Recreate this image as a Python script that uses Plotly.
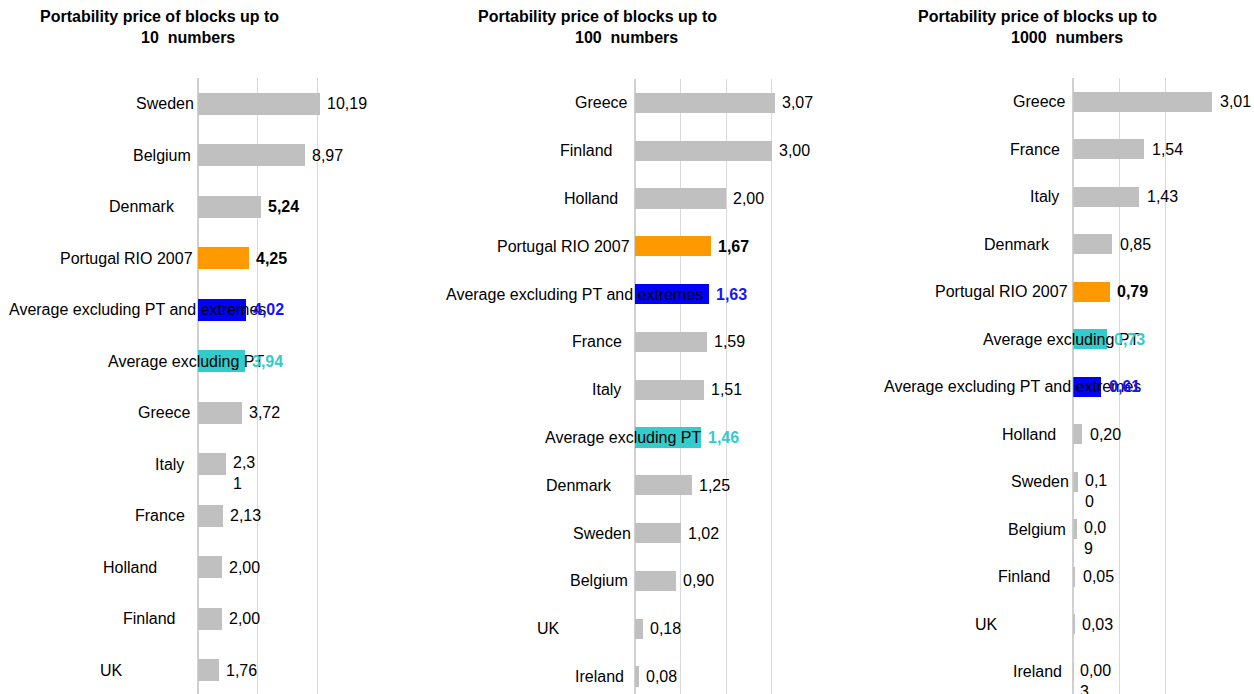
import plotly.graph_objects as go

# ---------------- data ----------------
title_line1 = "Portability price of blocks up to"
title_line2 = ["10\u00a0 numbers", "100\u00a0 numbers", "1000\u00a0 numbers"]

cats_10 = ["Sweden", "Belgium", "Denmark", "Portugal RIO 2007",
           "Average excluding PT and extremes", "Average excluding PT",
           "Greece", "Italy", "France", "Holland", "Finland", "UK"]
vals_10 = [10.19, 8.97, 5.24, 4.25, 4.02, 3.94, 3.72, 2.31, 2.13, 2.00, 2.00, 1.76]

cats_100 = ["Greece", "Finland", "Holland", "Portugal RIO 2007",
            "Average excluding PT and extremes", "France", "Italy",
            "Average excluding PT", "Denmark", "Sweden", "Belgium", "UK", "Ireland"]
vals_100 = [3.07, 3.00, 2.00, 1.67, 1.63, 1.59, 1.51, 1.46, 1.25, 1.02, 0.90, 0.18, 0.08]

cats_1000 = ["Greece", "France", "Italy", "Denmark", "Portugal RIO 2007",
             "Average excluding PT", "Average excluding PT and extremes",
             "Holland", "Sweden", "Belgium", "Finland", "UK", "Ireland"]
vals_1000 = [3.01, 1.54, 1.43, 0.85, 0.79, 0.73, 0.61, 0.20, 0.10, 0.09, 0.05, 0.03, 0.003]

# ---------------- style / layout ----------------
W, H = 1254, 694
FONT = "Arial, Liberation Sans, sans-serif"
FS = 16
GRAY, ORANGE, BLUE, CYAN = "#C0C0C0", "#FF9900", "#0000FF", "#33CCCC"
special_color = {"Portugal RIO 2007": ORANGE,
                 "Average excluding PT and extremes": BLUE,
                 "Average excluding PT": CYAN}
label_style = {"Portugal RIO 2007": ("#000000", True),
               "Average excluding PT and extremes": ("#1414FF", True),
               "Average excluding PT": ("#33CCCC", True)}

base_offsets = {"Sweden": -33, "Belgium": -36, "Denmark": -56, "Portugal RIO 2007": -72,
                "Average excluding PT and extremes": -61, "Average excluding PT": -12,
                "Greece": -34, "Italy": -29, "France": -38, "Holland": -44,
                "Finland": -49, "UK": -87, "Ireland": -36}

# x0 pixel, pixels per unit, axis max, grid step
panels = [
    dict(cats=cats_10, vals=vals_10, x0=198, ppu=11.93, xmax=15.02, dtick=5,
         top=78, rowpx=51.5, t1=159, t2=187.5,
         offsets=dict(base_offsets, Holland=-68.5), bold_extra={"Denmark"},
         wrap={"Italy": 3}, decimals={}),
    dict(cats=cats_100, vals=vals_100, x0=635, ppu=45.5, xmax=4.01, dtick=1,
         top=79, rowpx=47.8, t1=597.5, t2=626,
         offsets=base_offsets, bold_extra=set(), wrap={}, decimals={}),
    dict(cats=cats_1000, vals=vals_1000, x0=1073.3, ppu=46.33, xmax=3.02, dtick=1,
         top=78, rowpx=47.5, t1=1037.8, t2=1066.5,
         offsets=base_offsets, bold_extra=set(),
         wrap={"Sweden": 3, "Belgium": 3, "Ireland": 4}, decimals={"Ireland": 3}),
]


def fmt(v, nd):
    return f"{v:.{nd}f}".replace(".", ",")


fig = go.Figure()
annotations = []
layout_axes = {}

for i, p in enumerate(panels):
    n = i + 1
    xa = "x" if n == 1 else f"x{n}"
    ya = "y" if n == 1 else f"y{n}"
    colors = [special_color.get(c, GRAY) for c in p["cats"]]
    fig.add_trace(go.Bar(x=p["vals"], y=p["cats"], orientation="h",
                         marker=dict(color=colors, line=dict(width=0)),
                         width=0.42, xaxis=xa, yaxis=ya, hoverinfo="x+y",
                         showlegend=False))
    x0 = p["x0"]
    x1 = x0 + p["ppu"] * p["xmax"]
    layout_axes["xaxis" if n == 1 else f"xaxis{n}"] = dict(
        domain=[x0 / W, min(x1 / W, 1)], range=[0, p["xmax"]], dtick=p["dtick"],
        tick0=0, showgrid=True, gridcolor="#D9D9D9", gridwidth=1,
        zeroline=True, zerolinecolor="#D0D0D0", zerolinewidth=2,
        showticklabels=False, ticks="", showline=False, anchor=ya, fixedrange=True)
    ybottom = -0.5 + (H - p["top"]) / p["rowpx"]
    layout_axes["yaxis" if n == 1 else f"yaxis{n}"] = dict(
        domain=[0, 1 - p["top"] / H], type="category",
        categoryorder="array", categoryarray=p["cats"],
        range=[ybottom, -0.5], showticklabels=False, showgrid=False,
        zeroline=False, ticks="", anchor=xa, fixedrange=True)

    # titles
    annotations.append(dict(text=f"<b>{title_line1}</b>", xref="paper", yref="paper",
                            x=p["t1"] / W, y=1 - 17 / H, xanchor="center", yanchor="middle",
                            showarrow=False, font=dict(family=FONT, size=FS, color="#000")))
    annotations.append(dict(text=f"<b>{title_line2[i]}</b>", xref="paper", yref="paper",
                            x=p["t2"] / W, y=1 - 37 / H, xanchor="center", yanchor="middle",
                            showarrow=False, font=dict(family=FONT, size=FS, color="#000")))

    # category labels
    for c in p["cats"]:
        annotations.append(dict(text=c, xref=xa, yref=ya, x=0, y=c, xanchor="center",
                                yanchor="middle", xshift=p["offsets"][c], showarrow=False,
                                font=dict(family=FONT, size=FS, color="#000")))
    # value labels
    for c, v in zip(p["cats"], p["vals"]):
        s = fmt(v, p["decimals"].get(c, 2))
        yshift = 0
        if c in p["wrap"]:
            k = p["wrap"][c]
            s = s[:k] + "<br>" + s[k:]
            yshift = -9
        col, bold = label_style.get(c, ("#000000", False))
        if c in p["bold_extra"]:
            bold = True
        if bold:
            s = f"<b>{s}</b>"
        annotations.append(dict(text=s, xref=xa, yref=ya, x=v, y=c, xanchor="left",
                                yanchor="middle", xshift=5, yshift=yshift, align="left",
                                showarrow=False,
                                font=dict(family=FONT, size=FS, color=col)))

fig.update_layout(width=W, height=H, margin=dict(l=0, r=0, t=0, b=0),
                  paper_bgcolor="white", plot_bgcolor="white",
                  annotations=annotations, bargap=0, **layout_axes)

fig.write_html("out.html")
